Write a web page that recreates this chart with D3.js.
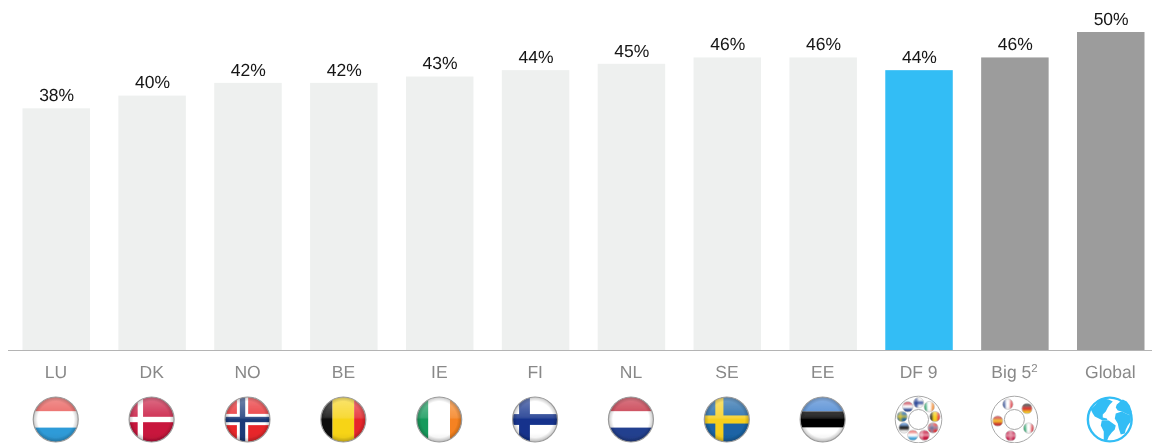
<!DOCTYPE html>
<html><head><meta charset="utf-8">
<script src="https://cdn.jsdelivr.net/npm/d3@7"></script>
<style>html,body{margin:0;padding:0;background:#fff}svg{display:block}text{font-family:"Liberation Sans",Arial,sans-serif;text-rendering:geometricPrecision}</style>
</head><body><svg id="c" width="1152" height="443"></svg>
<script>
const categories=["LU","DK","NO","BE","IE","FI","NL","SE","EE","DF 9","Big 5","Global"];
const values=[38,40,42,42,43,44,45,46,46,44,46,50];
const barColors=["#eef0ef","#eef0ef","#eef0ef","#eef0ef","#eef0ef","#eef0ef","#eef0ef","#eef0ef","#eef0ef","#33bdf5","#9c9c9c","#9c9c9c"];
const flags={
 LU:{h:["#e8524f","#ffffff","#2f9bd8"]},
 DK:{bg:"#c8143c",cross:["#ffffff"]},
 NO:{bg:"#e8282c",cross:["#ffffff","#1c3a78"]},
 BE:{v:["#0a0a0a","#f7d417","#e6262c"]},
 IE:{v:["#159a5c","#ffffff","#f58220"]},
 FI:{bg:"#ffffff",cross:["#14338c"]},
 NL:{h:["#c2273a","#ffffff","#23408f"]},
 SE:{bg:"#1a64a6",cross:["#f7cf1f"]},
 EE:{h:["#3f7fcf","#050505","#ffffff"]},
 FR:{v:["#23408f","#ffffff","#e0343c"]},
 DE:{h:["#1a1a1a","#d8231f","#f5c518"]},
 IT:{v:["#159a5c","#ffffff","#d8323c"]},
 ES:{h:["#c8282c","#f2b61a","#c8282c"]},
 UK:{bg:"#c8204c",cross:["#e8a0b0"]}
};
const crossStyle={DK:{o:-.5,w:[.12]},NO:{o:-.22,w:[.25,.12]},FI:{o:-.47,w:[.24]},SE:{o:-.33,w:[.18]},UK:{o:0,w:[.2]}};
const df9Members=["FI","IE","BE","NO","DK","LU","EE","SE","NL"];
const big5Members=["FR","DE","IT","UK","ES"];
const continents=[
 "M-19-10 L-14-15 L-11-19 L-6-21 L-1-20 L3-18 L0-15 L-2-12 L-4-8 L-7-5 L-7-2 L-3-1 L-2 1 L-7 1 L-11-1 L-15-3 L-17-6Z",
 "M-8 1 L-1 1 L6 6 L5 10 L2 13 L-1 17 L-3 22 L-6 21 L-6 12 L-9 6Z",
 "M7-15 L13-20 L17-18 L20-14 L22-8 L21-4 L16-6 L12-8 L8-9 L6-12Z",
 "M6-6 L12-8 L16-6 L21-4 L21 2 L18 6 L16 10 L15 14 L11 15 L9 9 L8 4 L5-1Z"
];
const svg=d3.select("#c");
const x=d3.scaleBand().domain(categories).range([22.5,1144.5]).paddingInner(0.296).paddingOuter(0);
const y=d3.scaleLinear().domain([0,50]).range([350,32]);
const defs=svg.append("defs");
const g1=defs.append("linearGradient").attr("id","gloss").attr("x1",0).attr("x2",0).attr("y1",0).attr("y2",1);
[[0,"#fff",.38],[.45,"#fff",.14],[.5,"#fff",0],[.8,"#000",0],[1,"#000",.08]].forEach(s=>g1.append("stop").attr("offset",s[0]).attr("stop-color",s[1]).attr("stop-opacity",s[2]));
const g2=defs.append("radialGradient").attr("id","edge");
[[0,0],[.8,0],[1,.22]].forEach(s=>g2.append("stop").attr("offset",s[0]).attr("stop-color","#000").attr("stop-opacity",s[1]));
function soft(id,dev){const f=defs.append("filter").attr("id",id).attr("x","-10%").attr("y","-10%").attr("width","120%").attr("height","120%");
 f.append("feGaussianBlur").attr("stdDeviation",dev);}
soft("soft",.45);soft("txt",.28);
let uid=0;
function stripes(g,L,T,d,c,horizontal){
 const w=horizontal?[.32,.36,.32]:[.26,.48,.26];
 let p=0;c.forEach((col,i)=>{
  const r=g.append("rect").attr("fill",col);
  if(horizontal)r.attr("x",L).attr("width",d).attr("y",T+p*d).attr("height",w[i]*d);
  else r.attr("y",T).attr("height",d).attr("x",L+p*d).attr("width",w[i]*d);
  p+=w[i];});
}
function drawFlag(parent,code,cx,cy,r,strokeCol){
 const f=flags[code],id="cp"+(uid++);
 defs.append("clipPath").attr("id",id).append("circle").attr("cx",cx).attr("cy",cy).attr("r",r);
 const g=parent.append("g").attr("clip-path",`url(#${id})`);
 if(r<10)g.style("filter","blur(0.9px)");
 const d=2*r,L=cx-r,T=cy-r;
 if(f.h)stripes(g,L,T,d,f.h,true);
 else if(f.v)stripes(g,L,T,d,f.v,false);
 else{
  g.append("rect").attr("x",L).attr("y",T).attr("width",d).attr("height",d).attr("fill",f.bg);
  const st=crossStyle[code],vx=cx+st.o*r;
  f.cross.forEach((c,i)=>{const w=d*st.w[i];
   g.append("rect").attr("x",vx-w/2).attr("y",T).attr("width",w).attr("height",d).attr("fill",c);
   g.append("rect").attr("x",L).attr("y",cy-w/2).attr("width",d).attr("height",w).attr("fill",c);});
 }
 g.append("rect").attr("x",L).attr("y",T).attr("width",d).attr("height",d).attr("fill","url(#gloss)");
 g.append("circle").attr("cx",cx).attr("cy",cy).attr("r",r).attr("fill","url(#edge)");
 parent.append("circle").attr("cx",cx).attr("cy",cy).attr("r",r).attr("fill","none").attr("stroke",strokeCol).attr("stroke-width",r>10?1.2:.5);
}
svg.append("g").selectAll("rect").data(categories).join("rect")
 .attr("x",d=>x(d)).attr("width",x.bandwidth())
 .attr("y",(d,i)=>y(values[i])).attr("height",(d,i)=>y(0)-y(values[i]))
 .attr("fill",(d,i)=>barColors[i]);
svg.append("line").attr("x1",8).attr("x2",1152).attr("y1",350.5).attr("y2",350.5).attr("stroke","#b4b4b4").attr("stroke-width",1);
svg.append("g").attr("filter","url(#txt)").selectAll("text").data(categories).join("text")
 .attr("x",d=>x(d)+x.bandwidth()/2+.4).attr("y",(d,i)=>y(values[i])-7.3)
 .attr("text-anchor","middle").attr("font-size",17.5).attr("fill","#141414")
 .text((d,i)=>values[i]+"%");
const lab=svg.append("g").attr("filter","url(#txt)").selectAll("text").data(categories).join("text")
 .attr("x",d=>x(d)+x.bandwidth()/2-.4).attr("y",378.4)
 .attr("text-anchor","middle").attr("font-size",17.5).attr("fill","#888");
lab.text(d=>d==="Big 5"?null:d);
lab.filter(d=>d==="Big 5").each(function(){const t=d3.select(this);
 t.append("tspan").text("Big 5");
 t.append("tspan").attr("dy",-6).attr("font-size",11.5).text("2");});
const icons=svg.append("g").attr("filter","url(#soft)");
const CY=419.5,R=22.5;
function ring(cat,members,startDeg){
 const cx=x(cat)+x.bandwidth()/2-.5;
 icons.append("circle").attr("cx",cx).attr("cy",CY).attr("r",R+.8).attr("fill","#fff").attr("stroke","#a8a8a8").attr("stroke-width",1);
 icons.append("circle").attr("cx",cx).attr("cy",CY).attr("r",10).attr("fill","#fff").attr("stroke","#a8a8a8").attr("stroke-width",1);
 members.forEach((m,i)=>{const a=(startDeg+i*360/members.length)*Math.PI/180;
  drawFlag(icons,m,cx+16.7*Math.cos(a),CY+16.7*Math.sin(a),5.3,"#bbb");});
}
categories.slice(0,9).forEach(c=>drawFlag(icons,c,x(c)+x.bandwidth()/2-.5,CY,R,"#9a9a9a"));
ring("DF 9",df9Members,-90);
ring("Big 5",big5Members,-113);
const gx=x("Global")+x.bandwidth()/2-1;
const globe=icons.append("g").attr("transform",`translate(${gx},${CY})`);
globe.append("circle").attr("r",21.9).attr("fill","#fff").attr("stroke","#33bdf5").attr("stroke-width",2.4);
globe.selectAll("path").data(continents).join("path").attr("d",d=>d).attr("fill","#33bdf5");
</script></body></html>
